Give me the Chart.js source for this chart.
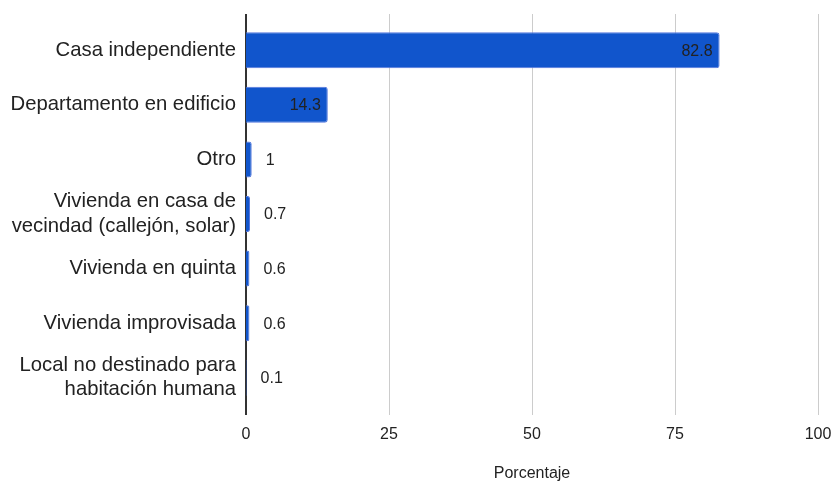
<!DOCTYPE html>
<html>
<head>
<meta charset="utf-8">
<script src="https://cdn.jsdelivr.net/npm/chart.js@4.4.0/dist/chart.umd.min.js"></script>
<style>
  html, body { margin: 0; padding: 0; background: #fff; }
</style>
</head>
<body>
<canvas id="myChart" width="832" height="481"></canvas>
<script>
// DATA
const categories = [
    'Casa independiente',
    'Departamento en edificio',
    'Otro',
    ['Vivienda en casa de', 'vecindad (callejón, solar)'],
    'Vivienda en quinta',
    'Vivienda improvisada',
    ['Local no destinado para', 'habitación humana']
];
const percentages = [82.8, 14.3, 1, 0.7, 0.6, 0.6, 0.1];
const xTicks = [0, 25, 50, 75, 100];
const axisTitle = 'Porcentaje';

const FONT = "'Liberation Sans', Arial, sans-serif";
const TEXT = '#222222';

// kill the extra margins chart.js reserves for half labels
function noPad(s) {
    s.paddingTop = 0; s.paddingBottom = 0;
    s.paddingLeft = 0; s.paddingRight = 0;
}

// vertical grid lines + axis line, a bit taller than the bar bands
const gridPlugin = {
    id: 'gridLines',
    beforeDatasetsDraw(chart) {
        const ctx = chart.ctx;
        const area = chart.chartArea;
        const xs = chart.scales.x;
        ctx.save();
        xTicks.forEach(v => {
            const x = Math.round(xs.getPixelForValue(v));
            ctx.beginPath();
            if (v === 0) {
                ctx.strokeStyle = '#333333';
                ctx.lineWidth = 2;
                ctx.moveTo(x, area.top - 9);
                ctx.lineTo(x, area.bottom + 10);
            } else {
                ctx.strokeStyle = '#cccccc';
                ctx.lineWidth = 1;
                ctx.moveTo(x + 0.5, area.top - 9);
                ctx.lineTo(x + 0.5, area.bottom + 10);
            }
            ctx.stroke();
        });
        ctx.restore();
    }
};

// value labels: inside the end of the bar if it fits, else just after it
const valueLabels = {
    id: 'valueLabels',
    afterDatasetsDraw(chart) {
        const ctx = chart.ctx;
        const meta = chart.getDatasetMeta(0);
        ctx.save();
        ctx.font = '16px ' + FONT;
        ctx.fillStyle = TEXT;
        ctx.textBaseline = 'middle';
        meta.data.forEach((bar, i) => {
            const txt = String(percentages[i]);
            const w = ctx.measureText(txt).width;
            const barW = bar.x - bar.base;
            if (barW > w + 14) {
                ctx.textAlign = 'right';
                ctx.fillText(txt, bar.x - 7, bar.y + 1);
            } else {
                ctx.textAlign = 'left';
                ctx.fillText(txt, bar.x + 14, bar.y + 1);
            }
        });
        ctx.restore();
    }
};

const data = {
    labels: categories,
    datasets: [{
        data: percentages,
        backgroundColor: '#1155cc',
        borderColor: '#5577dd',
        borderWidth: 1,
        borderRadius: 3,
        borderSkipped: 'start',
        barPercentage: 0.66,
        categoryPercentage: 1
    }]
};

const config = {
    type: 'bar',
    data: data,
    plugins: [gridPlugin, valueLabels],
    options: {
        indexAxis: 'y',
        responsive: false,
        animation: false,
        devicePixelRatio: 1,
        layout: { padding: { top: 23, right: 14, left: 0, bottom: 0 } },
        plugins: {
            legend: { display: false },
            tooltip: { enabled: false }
        },
        scales: {
            x: {
                min: 0,
                max: 100,
                afterBuildTicks: s => { s.ticks = xTicks.map(v => ({ value: v })); },
                afterFit: s => { s.height = 76; noPad(s); },
                grid: { display: false, drawTicks: false },
                border: { display: false },
                ticks: {
                    color: TEXT,
                    padding: 20,
                    font: { family: FONT, size: 16 }
                },
                title: {
                    display: true,
                    text: axisTitle,
                    color: TEXT,
                    padding: { top: 0, bottom: -2 },
                    font: { family: FONT, size: 16 }
                }
            },
            y: {
                afterFit: s => { s.width = 246; noPad(s); },
                grid: { display: false, drawTicks: false },
                border: { display: false },
                ticks: {
                    color: TEXT,
                    padding: 10,
                    font: { family: FONT, size: 20.3, lineHeight: 1.2 }
                }
            }
        }
    }
};

var myChart = new Chart(document.getElementById('myChart'), config);
</script>
</body>
</html>
